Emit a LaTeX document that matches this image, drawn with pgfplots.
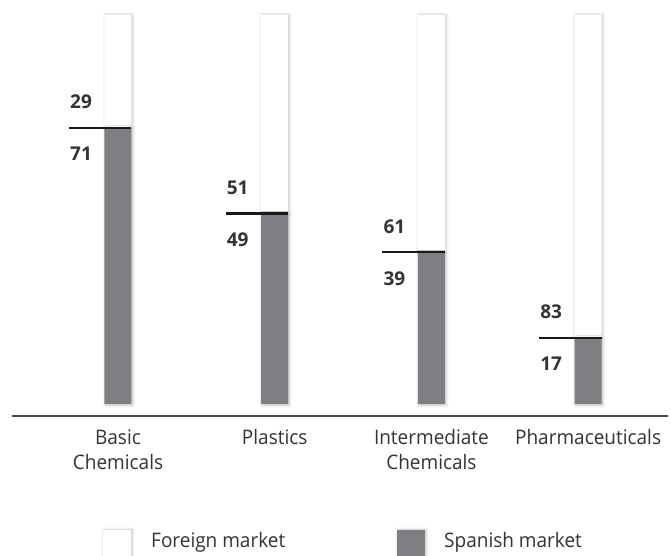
\documentclass[border=0pt]{standalone}
\usepackage{fontspec}
\usepackage{pgfplots}
\pgfplotsset{compat=1.18}
\usepackage{pgfplotstable}
\usetikzlibrary{shadows.blur}
\newfontfamily\lab{Open Sans}[FakeStretch=0.95]
\newfontfamily\num{Open Sans}
\definecolor{bargray}{HTML}{7F7F83}
\definecolor{txt}{HTML}{333333}
\pgfdeclareplotmark{hline}{%
  \pgfpathmoveto{\pgfqpoint{-49pt}{0pt}}%
  \pgfpathlineto{\pgfqpoint{13.5pt}{0pt}}%
  \pgfusepathqstroke}
\pgfplotstableread{
x foreign spanish
0 29 71
1 51 49
2 61 39
3 83 17
}\datatab
\pgfplotsset{
  base/.style={
    at={(0pt,152pt)}, anchor=south west,
    scale only axis, width=671pt, height=389pt,
    xmin=-0.753, xmax=3.529, ymin=0, ymax=100,
    axis line style={draw=none}, clip=false,
    ytick=\empty, major tick length=0pt,
    /pgf/number format/assume math mode=true,
  }
}
\begin{document}
\begin{tikzpicture}[x=1pt,y=1pt]
\path[use as bounding box] (0,0) rectangle (671,556);
\begin{axis}[base,
  ybar stacked, bar width=27pt,
  xtick={0,1,2,3},
  xticklabels={{Basic\\Chemicals},{Plastics},{Intermediate\\Chemicals},{Pharmaceuticals}},
  xticklabel style={anchor=north, yshift=-22pt, align=center, font=\lab\fontsize{20}{25}\selectfont, text=txt},
]
\addplot[fill=bargray, draw=none, blur shadow={shadow xshift=1pt, shadow yshift=-1pt, shadow blur radius=3pt, shadow opacity=30}] table[x=x, y=spanish] {\datatab};
\addplot[fill=white, draw=none, blur shadow={shadow xshift=1pt, shadow yshift=0pt, shadow blur radius=3pt, shadow opacity=25}] table[x=x, y=foreign] {\datatab};
\end{axis}
\begin{axis}[base, xtick=\empty]
\addplot[only marks, mark=hline, mark options={line width=2.3pt, draw=black!90}, point meta=explicit,
  nodes near coords, nodes near coords style={anchor=center, xshift=-37pt, yshift=26pt, font=\num\bfseries\fontsize{19}{22}\selectfont, text=txt}]
  table[x=x, y=spanish, meta=foreign] {\datatab};
\addplot[only marks, mark=none, point meta=explicit,
  nodes near coords, nodes near coords style={anchor=center, xshift=-37pt, yshift=-26pt, font=\num\bfseries\fontsize{19}{22}\selectfont, text=txt}]
  table[x=x, y=spanish, meta=spanish] {\datatab};
\end{axis}
\draw[line width=1.5pt, color=black!70] (12,140) -- (668,140);
\fill[white, blur shadow={shadow xshift=1pt, shadow yshift=0pt, shadow blur radius=3pt, shadow opacity=25}] (103,-6) rectangle (131,26);
\fill[bargray, blur shadow={shadow xshift=1pt, shadow yshift=0pt, shadow blur radius=3pt, shadow opacity=25}] (397,-6) rectangle (425,26);
\node[anchor=base west, inner sep=0pt, font=\lab\fontsize{20}{25}\selectfont, text=txt] at (151,9) {Foreign market};
\node[anchor=base west, inner sep=0pt, font=\lab\fontsize{20}{25}\selectfont, text=txt] at (444,9) {Spanish market};
\end{tikzpicture}
\end{document}
